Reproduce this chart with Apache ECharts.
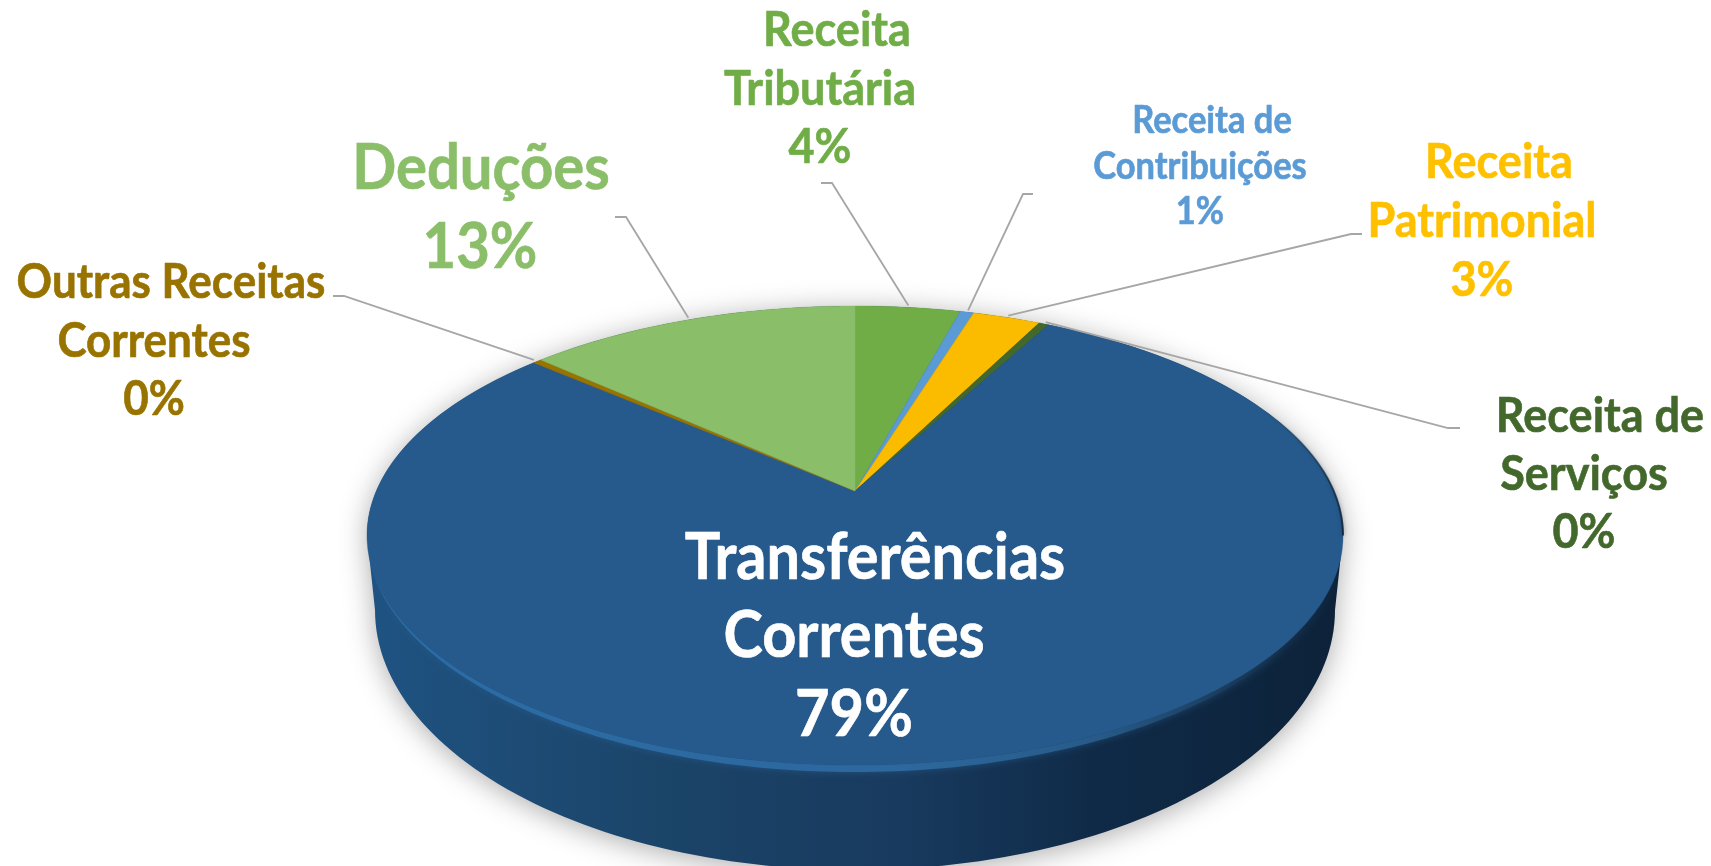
<!DOCTYPE html>
<html>
<head>
<meta charset="utf-8">
<title>Receitas</title>
<style>
html, body { margin: 0; padding: 0; background: #fff; }
#chart { width: 1711px; height: 866px; }
</style>
<script src="https://cdn.jsdelivr.net/npm/echarts@6/dist/echarts.min.js"></script>
</head>
<body>
<div id="chart"></div>
<script>
// clockwise from the top of the pie
const categories = ['Receita Tributária', 'Receita de Contribuições', 'Receita Patrimonial', 'Receita de Serviços', 'Transferências Correntes', 'Outras Receitas Correntes', 'Deduções'];
const values = [4.2, 0.55, 2.7, 0.4, 78.5, 0.35, 13.3];
const colors = ['#70AD47', '#5B9BD5', '#FBBC00', '#43682B', '#265A8C', '#997300', '#8ABE69'];
const labelLines = [
    ['Receita', 'Tributária'],
    ['Receita de', 'Contribuições'],
    ['Receita', 'Patrimonial'],
    ['Receita de', 'Serviços'],
    ['Transferências', 'Correntes'],
    ['Outras Receitas', 'Correntes'],
    ['Deduções']
];
const labelColors = ['#70AD47', '#5B9BD5', '#FFC000', '#43682B', '#ffffff', '#997300', '#8ABE69'];

// layout of the text, one [x, y] per line
const labelFont = [45, 34.5, 45, 45, 59.5, 44, 58];
const labelSpots = [
    [[837, 30], [820, 89], [820, 147]],
    [[1212, 121], [1200, 167], [1200, 212]],
    [[1499, 162], [1482, 221], [1482, 280]],
    [[1600, 416], [1584, 474], [1584, 532]],
    [[875, 558], [854, 636], [854, 715]],
    [[171, 283], [154, 342], [154, 400]],
    [[481, 169], [480, 248]]
];
// elbow of each leader line, outer end first. no leader on the big slice
const leaders = [
    [[821, 183], [832, 183]],
    [[1033, 194], [1023, 194]],
    [[1362, 234], [1351, 234]],
    [[1460, 428], [1448, 428]],
    null,
    [[333, 296], [344, 296]],
    [[615, 217], [626, 217]]
];

// tilted disc, the far side is squeezed so the apex is not the ellipse centre
const apexX = 855, apexY = 491;
const persp = -0.194, kx = 478.7, ky = 220.9;
const bottomCy = 610, bottomRx = 480, bottomRy = 260;
const rimMidY = 535.5, rimRy = 229.5, bevel = 7;

const total = values.reduce((a, b) => a + b, 0);
const starts = [];
values.reduce((sum, v, i) => { starts[i] = sum; return sum + v; }, 0);

function project(theta, r) {
    let x = Math.sin(theta) * (r || 1), y = -Math.cos(theta) * (r || 1);
    let w = 1 + persp * y;
    return [apexX + kx * x / w, apexY + ky * y / w];
}
function toAngle(v) {
    return v / total * Math.PI * 2;
}
function arc(from, to, steps) {
    let pts = [];
    for (let i = 0; i <= steps; i++) {
        pts.push(project(from + (to - from) * i / steps));
    }
    return pts;
}

function renderWall() {
    // silhouette: far half of the top rim then the near half of the base
    let pts = arc(-Math.PI * 0.562, Math.PI * 0.562, 140);
    for (let i = 0; i <= 120; i++) {
        let a = Math.PI * i / 120;
        pts.push([apexX + bottomRx * Math.cos(a), bottomCy + bottomRy * Math.sin(a)]);
    }
    // bevel band under the near rim, thins out to nothing at both ends
    let rim = arc(Math.PI * 1.438, Math.PI * 0.562, 160);
    let under = rim.map(p => [p[0], p[1] + bevel * (p[1] - rimMidY) / rimRy]).reverse();
    return {
        type: 'group',
        children: [{
            type: 'polygon',
            shape: {points: pts},
            style: {
                fill: new echarts.graphic.LinearGradient(0, 0, 1, 0, [
                    {offset: 0, color: '#1F5382'},
                    {offset: 0.3, color: '#1B4469'},
                    {offset: 0.55, color: '#183A5E'},
                    {offset: 0.75, color: '#0F2A47'},
                    {offset: 1, color: '#0D2239'}
                ]),
                shadowBlur: 28,
                shadowColor: 'rgba(0,0,0,0.32)',
                shadowOffsetY: 4
            }
        }, {
            type: 'polygon',
            shape: {points: rim.concat(under)},
            style: {
                fill: new echarts.graphic.LinearGradient(0, 0, 1, 0, [
                    {offset: 0, color: '#2C6CA6'},
                    {offset: 0.55, color: '#2D689E'},
                    {offset: 0.75, color: '#275A88'},
                    {offset: 0.92, color: '#163350'},
                    {offset: 1, color: '#0F2438'}
                ]),
                shadowBlur: 7,
                shadowColor: 'rgba(45,105,160,0.5)'
            }
        }]
    };
}

function renderSlice(params, api) {
    let i = api.value(1);
    let a0 = toAngle(starts[i]), a1 = toAngle(starts[i] + api.value(0));
    let steps = Math.max(2, Math.ceil((a1 - a0) * 60));
    return {
        type: 'polygon',
        shape: {points: [[apexX, apexY]].concat(arc(a0, a1, steps))},
        style: {fill: colors[i], stroke: colors[i], lineWidth: 0.4}
    };
}

// dark fringe on the right edge of the top face
function renderFringe() {
    return {
        type: 'polyline',
        shape: {points: arc(Math.PI * 0.37, Math.PI * 0.562, 40)},
        style: {
            fill: null,
            lineWidth: 2,
            stroke: new echarts.graphic.LinearGradient(0, 0, 0, 1, [
                {offset: 0, color: 'rgba(16,38,60,0)'},
                {offset: 0.6, color: 'rgba(16,38,60,0.7)'},
                {offset: 1, color: 'rgba(16,38,60,0.9)'}
            ]),
            shadowBlur: 4,
            shadowColor: 'rgba(16,38,60,0.5)'
        }
    };
}

function renderLabel(params, api) {
    let i = api.value(1), v = api.value(0);
    let children = [];
    let lines = labelLines[i].concat(Math.round(v) + '%');
    lines.forEach((text, n) => {
        children.push({
            type: 'text',
            x: labelSpots[i][n][0],
            y: labelSpots[i][n][1],
            scaleY: 1.08,
            style: {
                text: text,
                align: 'center',
                verticalAlign: 'middle',
                fontFamily: 'Lato',
                fontWeight: 'bold',
                fontSize: labelFont[i],
                fill: labelColors[i],
                stroke: labelColors[i],
                lineWidth: 0.6
            }
        });
    });
    if (leaders[i]) {
        let mid = toAngle(starts[i] + v / 2);
        children.push({
            type: 'polyline',
            shape: {points: leaders[i].concat([project(mid, 1.012)])},
            style: {fill: null, stroke: '#A6A6A6', lineWidth: 1.8}
        });
    }
    return {type: 'group', children: children};
}

const chart = echarts.init(document.getElementById('chart'), null, {renderer: 'canvas'});
const rows = values.map((v, i) => [v, i, categories[i]]);
chart.setOption({
    backgroundColor: '#ffffff',
    animation: false,
    series: [
        {type: 'custom', coordinateSystem: 'none', silent: true, renderItem: renderWall, data: [[total, 0]]},
        {type: 'custom', coordinateSystem: 'none', silent: true, renderItem: renderSlice, data: rows},
        {type: 'custom', coordinateSystem: 'none', silent: true, renderItem: renderFringe, data: [[total, 0]]},
        {type: 'custom', coordinateSystem: 'none', silent: true, renderItem: renderLabel, data: rows}
    ]
});
</script>
</body>
</html>
